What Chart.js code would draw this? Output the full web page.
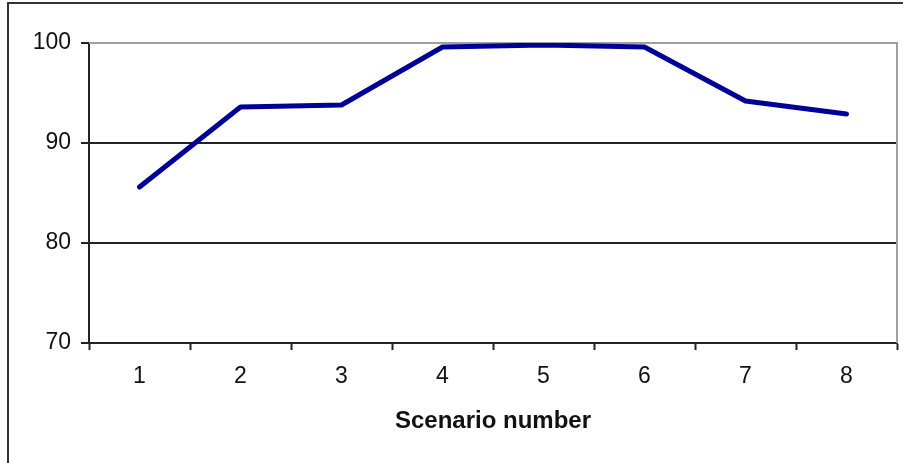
<!DOCTYPE html>
<html>
<head>
<meta charset="utf-8">
<script src="https://cdn.jsdelivr.net/npm/chart.js@4/dist/chart.umd.min.js"></script>
<style>
  html, body { margin: 0; padding: 0; background: #fff; overflow: hidden; }
  #wrap { position: relative; width: 903px; height: 463px; overflow: hidden; }
  #frame { position: absolute; left: 7px; top: 2px; width: 1000px; height: 1000px; border: 2px solid #333; box-sizing: border-box; }
  canvas { position: absolute; left: 0; top: 0; }
</style>
</head>
<body>
<div id="wrap">
  <div id="frame"></div>
  <canvas id="c" width="903" height="463"></canvas>
</div>
<script>
const categories = ['1', '2', '3', '4', '5', '6', '7', '8'];
const values = [85.6, 93.6, 93.8, 99.6, 99.8, 99.6, 94.2, 92.9];
const yTicks = [70, 80, 90, 100];
const xTitle = 'Scenario number';

const FONT = 'Liberation Sans, Arial, Helvetica, sans-serif';

const plotFrame = {
  id: 'plotFrame',
  beforeDatasetsDraw(chart) {
    const { ctx, chartArea: a } = chart;
    ctx.save();
    ctx.strokeStyle = '#a0a0a0';
    ctx.lineWidth = 2;
    ctx.beginPath();
    ctx.moveTo(a.left, a.top);
    ctx.lineTo(a.right, a.top);
    ctx.lineTo(a.right, a.bottom);
    ctx.stroke();
    ctx.restore();
  }
};

new Chart(document.getElementById('c'), {
  type: 'line',
  data: {
    labels: categories,
    datasets: [{
      data: values,
      borderColor: 'rgb(0,0,150)',
      borderWidth: 5,
      pointRadius: 0,
      tension: 0,
      fill: false,
      borderCapStyle: 'round',
      borderJoinStyle: 'round'
    }]
  },
  options: {
    responsive: false,
    animation: false,
    devicePixelRatio: 1,
    layout: { padding: { top: 43, right: 6, left: 0, bottom: 0 } },
    plugins: { legend: { display: false }, tooltip: { enabled: false } },
    scales: {
      x: {
        offset: true,
        grid: {
          offset: true,
          drawOnChartArea: false,
          drawTicks: true,
          tickLength: 7,
          tickWidth: 2,
          tickColor: '#222'
        },
        border: { display: true, color: '#222', width: 2 },
        ticks: { color: '#111', font: { family: FONT, size: 23 }, padding: 13 },
        title: {
          display: true,
          text: xTitle,
          color: '#111',
          font: { family: FONT, size: 24, weight: 'bold' },
          padding: { top: 16, bottom: 27 }
        },
        afterFit(scale) { scale.height = 120; }
      },
      y: {
        min: 70,
        max: 100,
        afterBuildTicks(scale) { scale.ticks = yTicks.map(v => ({ value: v })); },
        grid: {
          color: (c) => c.tick && c.tick.value === 100 ? '#a0a0a0' : '#222',
          lineWidth: 2,
          drawTicks: true,
          tickLength: 8,
          tickColor: '#222'
        },
        border: { display: true, color: '#222', width: 2 },
        ticks: { color: '#111', font: { family: FONT, size: 23 }, padding: 10 },
        afterFit(scale) { scale.width = 89; }
      }
    }
  },
  plugins: [plotFrame]
});
</script>
</body>
</html>
